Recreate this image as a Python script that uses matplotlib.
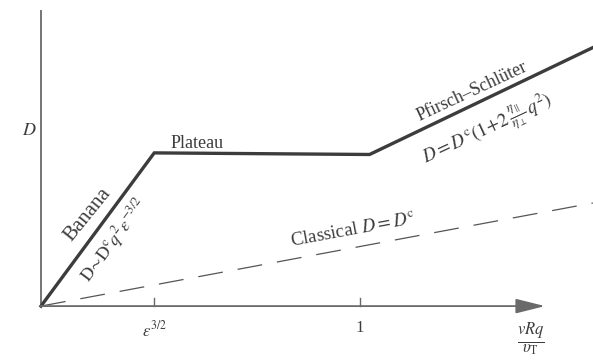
import matplotlib.pyplot as plt

plt.rcParams['font.family'] = ['Liberation Serif', 'DejaVu Serif']
plt.rcParams['mathtext.fontset'] = 'stix'

# regime boundaries along nu*R*q/v_T and the diffusion coefficient D
x_regimes = [0.0, 0.355, 1.03, 1.73]
D_regimes = [0.0, 0.48, 0.475, 0.81]
x_classical = [0.0, 1.73]
D_classical = [0.0, 0.323]
tick_pos = [0.355, 1.0]
tick_labels = [r'$\varepsilon^{3/2}$', '1']

ink = '#3c3c3c'
axis_col = '#6a6a6a'

fig = plt.figure(figsize=(5.93, 3.61), dpi=100)
ax = fig.add_axes([0, 0, 1, 1])
ax.set_xlim(-0.1285, 1.7304)
ax.set_ylim(-0.172, 0.959)
ax.axis('off')

# axes
ax.plot([0, 0], [0, 0.928], color=axis_col, lw=1.3, solid_capstyle='butt')
ax.annotate('', xy=(1.58, 0), xytext=(-0.002, 0),
            arrowprops=dict(arrowstyle='-|>,head_length=1.8,head_width=0.45',
                            mutation_scale=10, color=axis_col, lw=1.3,
                            shrinkA=0, shrinkB=0))
for xp, lab in zip(tick_pos, tick_labels):
    ax.plot([xp, xp], [0, 0.025], color=axis_col, lw=1.0)
    ax.text(xp, -0.045, lab, ha='center', va='top', fontsize=12, color=ink)

# curves
ax.plot(x_regimes, D_regimes, color=ink, lw=2.4, solid_joinstyle='miter')
ax.plot(x_classical, D_classical, color='#555555', lw=0.9,
        dashes=(20, 12))

# labels
ax.text(-0.038, 0.55, r'$D$', ha='center', va='center', fontsize=13, color=ink)
ax.text(0.146, 0.285, 'Banana', rotation=51, ha='center', va='center',
        fontsize=15, color=ink, rotation_mode='anchor')
ax.text(0.228, 0.205, r'$\mathrm{D}\!\sim\!\mathrm{D^c}q^2\varepsilon^{-3/2}$',
        rotation=53, ha='center', va='center', fontsize=13, color=ink,
        rotation_mode='anchor')
ax.text(0.49, 0.51, 'Plateau', ha='center', va='center', fontsize=13, color=ink)
ax.text(1.35, 0.671, 'Pfirsch–Schlüter', rotation=25, ha='center',
        va='center', fontsize=13, color=ink, rotation_mode='anchor')
ax.text(1.40, 0.552,
        r'$D = D^{\mathrm{c}}(1\!+\!2\,\frac{\eta_{\parallel}}{\eta_{\perp}}\,q^2)$',
        rotation=25, ha='center', va='center', fontsize=13.5, color=ink,
        rotation_mode='anchor')
ax.text(0.98, 0.235, r'Classical $D = D^{\mathrm{c}}$', rotation=10.5,
        ha='center', va='center', fontsize=13.5, color=ink,
        rotation_mode='anchor')
ax.text(1.535, -0.105, r'$\frac{vRq}{\upsilon_{\mathrm{T}}}$', ha='center',
        va='center', fontsize=17, color=ink)

fig.savefig('out.png', dpi=100)
